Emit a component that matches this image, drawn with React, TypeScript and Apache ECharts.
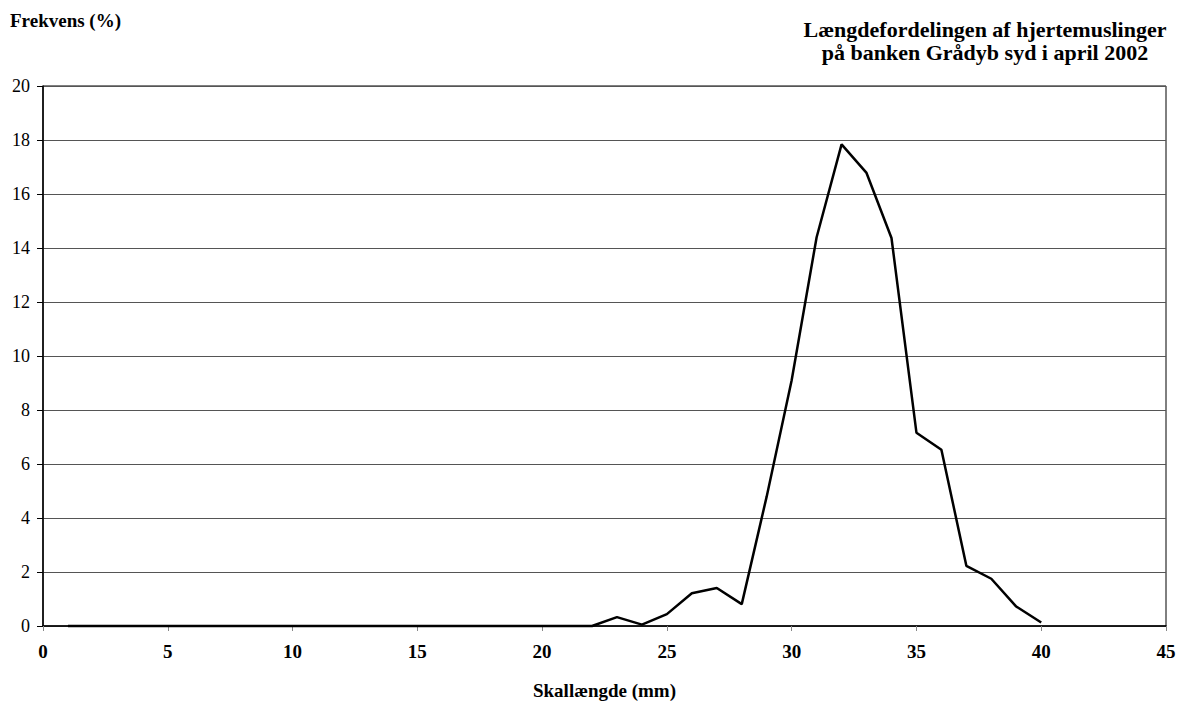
import React, { useEffect, useRef } from "react";
import * as echarts from "echarts";

const lengths: number[] = [
  1, 2, 3, 4, 5, 6, 7, 8, 9, 10, 11, 12, 13, 14, 15, 16, 17, 18, 19, 20,
  21, 22, 23, 24, 25, 26, 27, 28, 29, 30, 31, 32, 33, 34, 35, 36, 37, 38, 39, 40,
];
const frequency: number[] = [
  0, 0, 0, 0, 0, 0, 0, 0, 0, 0, 0, 0, 0, 0, 0, 0, 0, 0, 0, 0,
  0, 0, 0.33, 0.05, 0.44, 1.21, 1.41, 0.81, 4.8, 9.1, 14.4, 17.84, 16.78, 14.37, 7.16, 6.53,
  2.23, 1.75, 0.72, 0.13,
];
const titleLines: string[] = [
  "Længdefordelingen af hjertemuslinger",
  "på banken Grådyb syd i april 2002",
];
const yAxisLabel = "Frekvens (%)";
const xAxisLabel = "Skallængde (mm)";

const FONT = "Liberation Serif";

export default function App() {
  const ref = useRef<HTMLDivElement>(null);
  useEffect(() => {
    if (!ref.current) return;
    const chart = echarts.init(ref.current, null, { renderer: "svg" });
    chart.setOption({
      animation: false,
      backgroundColor: "#ffffff",
      textStyle: { fontFamily: FONT },
      graphic: [
        {
          type: "text",
          left: 10,
          top: 11,
          style: {
            text: yAxisLabel,
            fontFamily: FONT,
            fontWeight: "bold",
            fontSize: 19,
            fill: "#000",
          },
        },
        ...titleLines.map((line, i) => ({
          type: "text",
          x: 985,
          y: 18 + i * 23,
          style: {
            text: line,
            fontFamily: FONT,
            fontWeight: "bold",
            fontSize: 22,
            fill: "#000",
            textAlign: "center",
            textVerticalAlign: "top",
          },
        })),
      ],
      grid: {
        left: 43,
        right: 22,
        top: 86,
        bottom: 78,
        show: true,
        borderColor: "#000",
        borderWidth: 1,
        containLabel: false,
        outerBoundsMode: "none",
      },
      xAxis: {
        type: "value",
        min: 0,
        max: 45,
        interval: 5,
        name: xAxisLabel,
        nameLocation: "middle",
        nameGap: 55,
        nameTextStyle: { fontFamily: FONT, fontWeight: "bold", fontSize: 19, color: "#000" },
        axisLine: { show: true, onZero: false, lineStyle: { color: "#000", width: 1.5 } },
        axisTick: { show: true, inside: false, length: 5, lineStyle: { color: "#888" } },
        axisLabel: { fontFamily: FONT, fontWeight: "bold", fontSize: 19, color: "#000", margin: 16 },
        splitLine: { show: false },
      },
      yAxis: {
        type: "value",
        min: 0,
        max: 20,
        interval: 2,
        axisLine: { show: true, lineStyle: { color: "#000", width: 1.5 } },
        axisTick: { show: true, inside: false, length: 6, lineStyle: { color: "#000" } },
        axisLabel: { fontFamily: FONT, fontSize: 18, color: "#000", margin: 13 },
        splitLine: { show: true, lineStyle: { color: "#555", width: 1 } },
      },
      series: [
        {
          type: "line",
          data: lengths.map((l, i) => [l, frequency[i]]),
          showSymbol: false,
          symbol: "none",
          lineStyle: { color: "#000", width: 2.5 },
          clip: false,
        },
      ],
    });
    return () => chart.dispose();
  }, []);
  return <div ref={ref} style={{ width: 1188, height: 704, position: "absolute", left: 0, top: 0 }} />;
}
